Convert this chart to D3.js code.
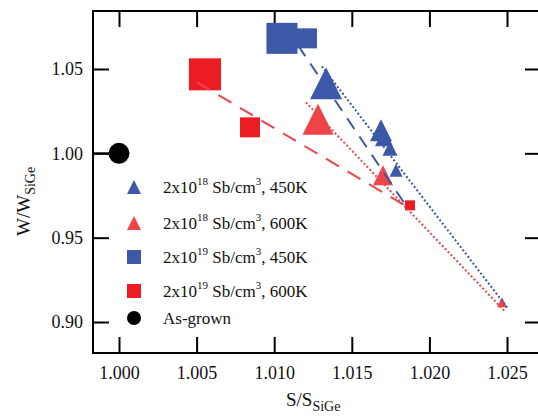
<!DOCTYPE html>
<html>
<head>
<meta charset="utf-8">
<script src="https://cdn.jsdelivr.net/npm/d3@7"></script>
<style>
  body { margin: 0; background: #fff; }
  svg { display: block; }
  text { font-family: "Liberation Serif", "Times New Roman", serif; fill: #111; }
</style>
</head>
<body>
<div id="chart"></div>
<script>
// S/S_SiGe (s) vs W/W_SiGe (w)
var tri450 = [
  {s: 1.01334, w: 1.0415},
  {s: 1.01688, w: 1.01364},
  {s: 1.01707, w: 1.00949},
  {s: 1.01746, w: 1.00296},
  {s: 1.01785, w: 0.98992}
];
var tri600 = [
  {s: 1.01282, w: 1.02016},
  {s: 1.01701, w: 0.98696},
  {s: 1.02468, w: 0.91166}
];
var sq450 = [
  {s: 1.0105, w: 1.06818},
  {s: 1.01211, w: 1.06818}
];
var sq600 = [
  {s: 1.00554, w: 1.04684},
  {s: 1.00844, w: 1.01541},
  {s: 1.01875, w: 0.96917}
];
var asGrown = [{s: 1.000, w: 1.000}];

// marker sizes (px) per point
var sizeTri450 = [32, 22, 18, 15, 13];
var sizeTri600 = [31, 20, 10];
var sizeSq450 = [31, 20];
var sizeSq600 = [32, 20, 10];

// trend lines (end points)
var fitSq600 = [{s: 1.00502, w: 1.0421}, {s: 1.01874, w: 0.96738}];
var fitSq450 = [{s: 1.01153, w: 1.06406}, {s: 1.01861, w: 0.96738}];
var fitTri450 = [{s: 1.01307, w: 1.0516}, {s: 1.02505, w: 0.90807}];
var fitTri600 = [{s: 1.01204, w: 1.03025}, {s: 1.02486, w: 0.90629}];

var xTicks = [1.000, 1.005, 1.010, 1.015, 1.020, 1.025];
var yTicks = [0.90, 0.95, 1.00, 1.05];

var legendItems = [
  {exp: "18", temp: "450K", shape: "tri", color: "#3c58a7"},
  {exp: "18", temp: "600K", shape: "tri", color: "#ef444a"},
  {exp: "19", temp: "450K", shape: "sq", color: "#3c58a7"},
  {exp: "19", temp: "600K", shape: "sq", color: "#ec1c24"},
  {label: "As-grown", shape: "circle", color: "#000"}
];

var blue = "#3c58a7", redSq = "#ec1c24", redTri = "#ef444a";

var margin = {left: 93, right: -3, top: 11, bottom: 65},
    width = 538 - margin.left - margin.right,
    height = 418 - margin.top - margin.bottom;

var svg = d3.select("#chart").append("svg")
    .attr("width", 538)
    .attr("height", 418);

var g = svg.append("g")
    .attr("transform", "translate(" + margin.left + "," + margin.top + ")");

var x = d3.scaleLinear().domain([0.998325, 1.02719]).range([0, width]);
var y = d3.scaleLinear().domain([0.88162, 1.08439]).range([height, 0]);

function triPath(sz) {
  var h = sz / 2;
  return "M0," + (-h) + "L" + h + "," + h + "L" + (-h) + "," + h + "Z";
}

// frame
g.append("rect")
    .attr("width", width).attr("height", height)
    .attr("fill", "none").attr("stroke", "#000").attr("stroke-width", 2);

// ticks (inward, all sides)
var tl = 16;
g.append("g").attr("transform", "translate(0," + height + ")")
    .call(d3.axisBottom(x).tickValues(xTicks).tickFormat(d3.format(".3f")).tickSizeInner(-tl).tickSizeOuter(0).tickPadding(13))
    .call(function(a) { a.select(".domain").remove(); });
g.append("g")
    .call(d3.axisTop(x).tickValues(xTicks).tickFormat("").tickSizeInner(-tl).tickSizeOuter(0))
    .call(function(a) { a.select(".domain").remove(); });
g.append("g")
    .call(d3.axisLeft(y).tickValues(yTicks).tickFormat(d3.format(".2f")).tickSizeInner(-tl).tickSizeOuter(0).tickPadding(10))
    .call(function(a) { a.select(".domain").remove(); });
g.append("g").attr("transform", "translate(" + width + ",0)")
    .call(d3.axisRight(y).tickValues(yTicks).tickFormat("").tickSizeInner(-tl).tickSizeOuter(0))
    .call(function(a) { a.select(".domain").remove(); });

g.selectAll(".tick line").attr("stroke", "#000").attr("stroke-width", 2);
g.selectAll(".tick text")
    .attr("font-family", "Liberation Serif, Times New Roman, serif")
    .attr("font-size", 18).attr("fill", "#111");

// axis titles
var xt = svg.append("text")
    .attr("x", 286).attr("y", 406)
    .attr("font-size", 19);
xt.append("tspan").text("S/S");
xt.append("tspan").attr("font-size", 14).attr("dy", 5).text("SiGe");

var yt = svg.append("text")
    .attr("transform", "translate(30,236) rotate(-90)")
    .attr("font-size", 19);
yt.append("tspan").text("W/W");
yt.append("tspan").attr("font-size", 14).attr("dy", 5).text("SiGe");

// as-grown marker with short connector to axis
g.append("line")
    .attr("x1", 0).attr("x2", x(asGrown[0].s))
    .attr("y1", y(asGrown[0].w)).attr("y2", y(asGrown[0].w))
    .attr("stroke", "#000").attr("stroke-width", 2);
g.selectAll(".ag").data(asGrown).enter().append("circle")
    .attr("cx", function(d) { return x(d.s); })
    .attr("cy", function(d) { return y(d.w); })
    .attr("r", 10.5).attr("fill", "#000");

// squares
function squares(data, sizes, color) {
  g.selectAll(null).data(data).enter().append("rect")
      .attr("x", function(d, i) { return x(d.s) - sizes[i] / 2; })
      .attr("y", function(d, i) { return y(d.w) - sizes[i] / 2; })
      .attr("width", function(d, i) { return sizes[i]; })
      .attr("height", function(d, i) { return sizes[i]; })
      .attr("fill", color);
}
function triangles(data, sizes, color) {
  g.selectAll(null).data(data).enter().append("path")
      .attr("transform", function(d) { return "translate(" + x(d.s) + "," + y(d.w) + ")"; })
      .attr("d", function(d, i) { return triPath(sizes[i]); })
      .attr("fill", color);
}

squares(sq600, sizeSq600, redSq);
squares(sq450, sizeSq450, blue);
triangles(tri600, sizeTri600, redTri);
triangles(tri450, sizeTri450, blue);

// trend lines
var line = d3.line().x(function(d) { return x(d.s); }).y(function(d) { return y(d.w); });
g.append("path").datum(fitSq600).attr("d", line)
    .attr("fill", "none").attr("stroke", "#ef444a").attr("stroke-width", 2).attr("stroke-dasharray", "15,10");
g.append("path").datum(fitSq450).attr("d", line)
    .attr("fill", "none").attr("stroke", blue).attr("stroke-width", 2).attr("stroke-dasharray", "13,9");
g.append("path").datum(fitTri450).attr("d", line)
    .attr("fill", "none").attr("stroke", blue).attr("stroke-width", 2).attr("stroke-dasharray", "2,2.2");
g.append("path").datum(fitTri600).attr("d", line)
    .attr("fill", "none").attr("stroke", "#ef444a").attr("stroke-width", 2).attr("stroke-dasharray", "2,2.2");

// legend
var legY = [187, 223, 257, 291, 318];
var leg = svg.append("g");
legendItems.forEach(function(it, i) {
  var cy = legY[i];
  if (it.shape === "tri") {
    leg.append("path").attr("transform", "translate(134," + cy + ")")
        .attr("d", triPath(14)).attr("fill", it.color);
  } else if (it.shape === "sq") {
    leg.append("rect").attr("x", 127).attr("y", cy - 7).attr("width", 14).attr("height", 14).attr("fill", it.color);
  } else {
    leg.append("circle").attr("cx", 134).attr("cy", cy).attr("r", 7).attr("fill", it.color);
  }
  var t = leg.append("text").attr("x", 163).attr("y", cy + 6).attr("font-size", 17);
  if (it.label) {
    t.text(it.label);
  } else {
    t.append("tspan").text("2x10");
    t.append("tspan").attr("font-size", 11).attr("dy", -8).text(it.exp);
    t.append("tspan").attr("dy", 8).text(" Sb/cm");
    t.append("tspan").attr("font-size", 11).attr("dy", -8).text("3");
    t.append("tspan").attr("dy", 8).text(", " + it.temp);
  }
});
</script>
</body>
</html>
